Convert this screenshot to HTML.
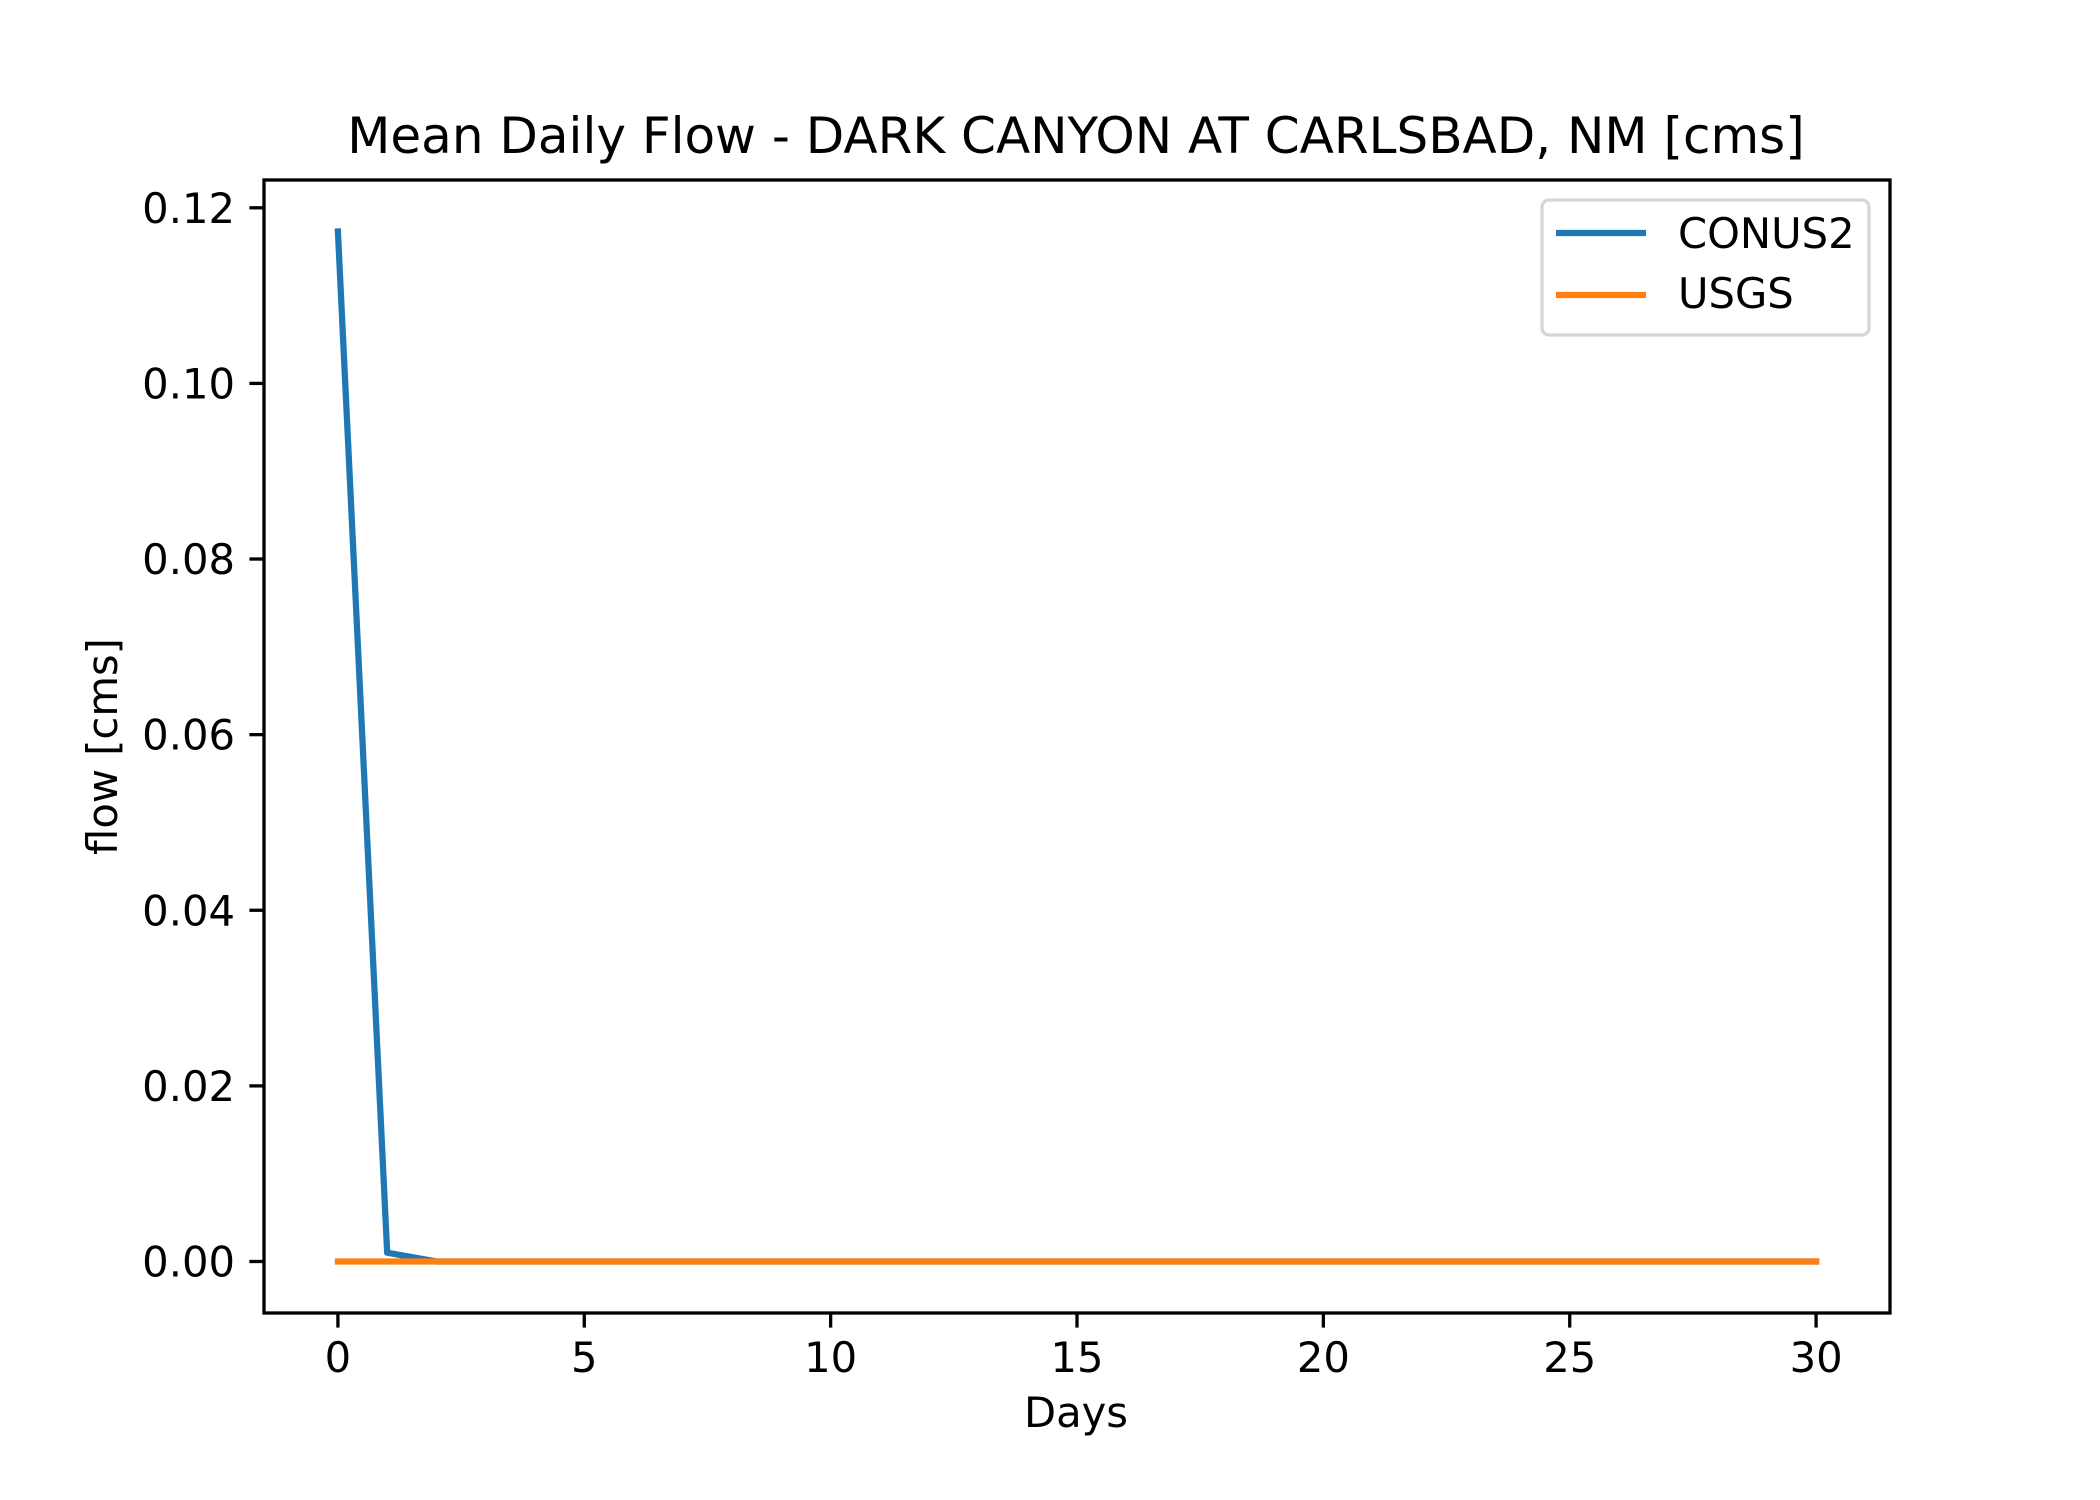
<!DOCTYPE html>
<html><head><meta charset="utf-8"><style>
html,body{margin:0;padding:0;background:#fff;}
svg{display:block;font-family:"DejaVu Sans","Liberation Sans",sans-serif;}
</style></head><body>
<svg id="chart" width="2100" height="1500" viewBox="0 0 2100 1500" xmlns="http://www.w3.org/2000/svg">
<rect x="0" y="0" width="2100" height="1500" fill="#fff"/>
<text x="1076" y="153" font-size="50" text-anchor="middle">Mean Daily Flow - DARK CANYON AT CARLSBAD, NM [cms]</text>
<g id="plot"></g>
<text x="1076" y="1427" font-size="41.7" text-anchor="middle">Days</text>
<text transform="translate(117,746.5) rotate(-90)" font-size="41.7" text-anchor="middle">flow [cms]</text>
<g>
<rect x="1542" y="200" width="327" height="135" rx="7" fill="#fff" fill-opacity="0.8" stroke="#d6d6d6" stroke-width="3.3"/>
<line x1="1556" y1="233" x2="1646" y2="233" stroke="#1f77b4" stroke-width="6.25"/>
<text x="1678" y="248" font-size="41.7">CONUS2</text>
<line x1="1556" y1="295" x2="1646" y2="295" stroke="#ff7f0e" stroke-width="6.25"/>
<text x="1678" y="308" font-size="41.7">USGS</text>
</g>
</svg>
<script>
const days = [];
for (let i = 0; i <= 30; i++) days.push(i);
const conus2 = [0.1173, 0.001, 0, 0, 0, 0, 0, 0, 0, 0, 0, 0, 0, 0, 0, 0, 0, 0, 0, 0, 0, 0, 0, 0, 0, 0, 0, 0, 0, 0, 0];
const usgs = [0, 0, 0, 0, 0, 0, 0, 0, 0, 0, 0, 0, 0, 0, 0, 0, 0, 0, 0, 0, 0, 0, 0, 0, 0, 0, 0, 0, 0, 0, 0];
const xTicks = [0, 5, 10, 15, 20, 25, 30];
const yTicks = [0, 0.02, 0.04, 0.06, 0.08, 0.10, 0.12];

const L = 264, R = 1890, T = 180, B = 1313;
const xmin = -1.5, xmax = 31.5;
const allY = conus2.concat(usgs);
const dmin = Math.min(...allY), dmax = Math.max(...allY);
const ymin = dmin - 0.05 * (dmax - dmin), ymax = dmax + 0.05 * (dmax - dmin);
const xs = v => L + (v - xmin) / (xmax - xmin) * (R - L);
const ys = v => B - (v - ymin) / (ymax - ymin) * (B - T);
const NS = 'http://www.w3.org/2000/svg';
const g = document.getElementById('plot');
function mk(tag, attrs) { const e = document.createElementNS(NS, tag); for (const k in attrs) e.setAttribute(k, attrs[k]); g.appendChild(e); return e; }

function series(vals, color, name) {
  const pts = days.map((d, i) => xs(d).toFixed(2) + ',' + ys(vals[i]).toFixed(2)).join(' ');
  const p = mk('polyline', { points: pts, fill: 'none', stroke: color, 'stroke-width': 6.25, 'stroke-linejoin': 'round', 'stroke-linecap': 'square' });
  
  
}
series(conus2, '#1f77b4', 'line-conus2');
series(usgs, '#ff7f0e', 'line-usgs');

xTicks.forEach(t => {
  const x = xs(t);
  const l = mk('line', { x1: x, y1: B, x2: x, y2: B + 14.6, stroke: '#000', 'stroke-width': 3.3 });
  
  
  const tx = mk('text', { x: x, y: B + 59, 'font-size': 41.7, 'text-anchor': 'middle' });
  tx.textContent = String(t);
  
  
});
yTicks.forEach(t => {
  const y = ys(t);
  const l = mk('line', { x1: L - 14.6, y1: y, x2: L, y2: y, stroke: '#000', 'stroke-width': 3.3 });
  
  
  const tx = mk('text', { x: L - 29, y: y + 15, 'font-size': 41.7, 'text-anchor': 'end' });
  tx.textContent = t.toFixed(2);
  
  
});
const frame = mk('rect', { x: L, y: T, width: R - L, height: B - T, fill: 'none', stroke: '#000', 'stroke-width': 3.3 });


</script>
</body></html>
